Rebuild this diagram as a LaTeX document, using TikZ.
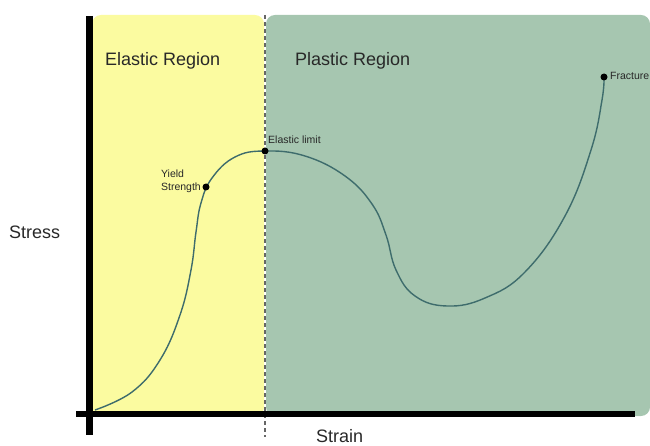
\documentclass[tikz,border=0pt]{standalone}
\usepackage{fontspec}
\setmainfont{Liberation Sans}
\definecolor{elasticfill}{RGB}{251,251,160}
\definecolor{plasticfill}{RGB}{166,198,176}
\definecolor{curvecol}{RGB}{62,108,108}
\definecolor{labelcol}{RGB}{40,40,40}
\begin{document}
\begin{tikzpicture}[x=1pt,y=-1pt,
  region/.style={font=\fontsize{18}{20}\selectfont,text=labelcol,anchor=west,inner sep=0pt},
  small/.style={font=\fontsize{10.5}{13}\selectfont,text=labelcol,inner sep=0pt},
  pt/.style={circle,fill=black,inner sep=0pt,minimum size=7pt}]
\useasboundingbox (0,0) rectangle (650,446);
% regions
\fill[elasticfill,rounded corners=9pt] (92,15) rectangle (264,416);
\fill[plasticfill,rounded corners=9pt] (266,15) rectangle (650,416);
\node[region] (er) at (105,61) {Elastic Region};
\node[region] (pr) at (295,61) {Plastic Region};
% dashed divider
\coordinate (dtop) at (265,15);
\coordinate (dbot) at (265,437);
\draw[dashed,dash pattern=on 4pt off 3pt,line width=1.4pt,black!60] (dtop) -- (dbot);
% curve
\draw[curvecol,line width=1.4pt] plot[smooth,tension=0.7] coordinates {
 (95,410) (132,392) (160,360) (180,315) (191,270) (196,232) (201,203) (212,178)
 (235,157) (265,151) (305,156) (345,176) (372,204) (386,235) (396,270)
 (415,296) (447,306) (485,298) (525,272) (565,216) (591,150) (602,100) (604,77)};
% axes
\coordinate (ytop) at (89,16);
\coordinate (ybot) at (89,435);
\coordinate (xl) at (76,414);
\coordinate (xr) at (635,414);
\draw[line width=7pt] (ytop) -- (ybot);
\draw[line width=6.5pt] (xl) -- (xr);
% points
\node[pt] (yield) at (206,187) {};
\node[pt] (elim) at (265,151) {};
\node[pt] (frac) at (604,77) {};
\node[small,anchor=west] (elimlbl) at (268,140) {Elastic limit};
\node[small,anchor=east,align=left] (yieldlbl) at (201,181.5) {Yield\\Strength};
\node[small,anchor=west] (fraclbl) at (610,76) {Fracture};
% axis labels
\node[region] (stress) at (9,232) {Stress};
\node[region] (strain) at (316,436.5) {Strain};
\end{tikzpicture}
\end{document}
